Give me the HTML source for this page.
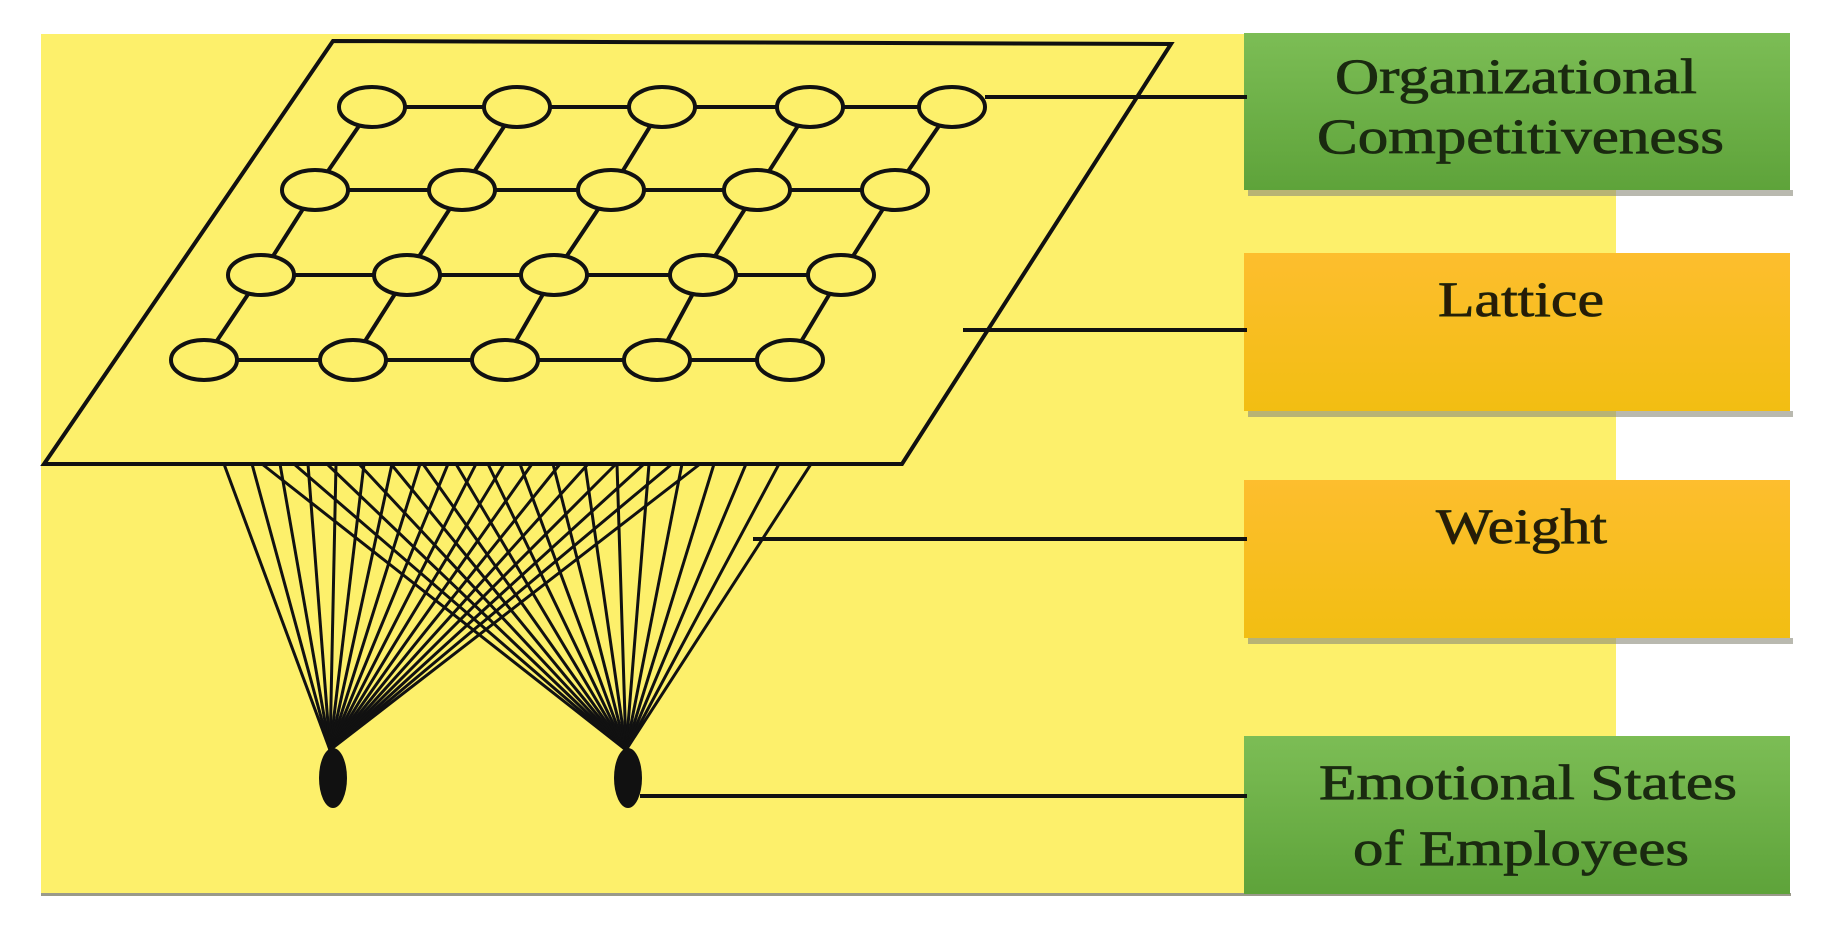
<!DOCTYPE html>
<html><head><meta charset="utf-8"><style>
html,body{margin:0;padding:0;background:#fff;width:1830px;height:930px;overflow:hidden}
</style></head><body>
<svg width="1830" height="930" viewBox="0 0 1830 930" xmlns="http://www.w3.org/2000/svg">
<defs>
<linearGradient id="g" x1="0" y1="0" x2="0" y2="1"><stop offset="0" stop-color="#7cbd55"/><stop offset="1" stop-color="#5ea33a"/></linearGradient>
<linearGradient id="o" x1="0" y1="0" x2="0" y2="1"><stop offset="0" stop-color="#fdbe2e"/><stop offset="1" stop-color="#f2be12"/></linearGradient>
</defs>
<rect x="0" y="0" width="1830" height="930" fill="#fff"/>
<rect x="41" y="34" width="1575" height="860" fill="#fdf06b"/>
<rect x="41" y="893" width="1750" height="3" fill="#9a9a8a"/>
<g fill="#8a8a7a" opacity="0.6">
<rect x="1248" y="190" width="545" height="6"/>
<rect x="1248" y="411" width="545" height="6"/>
<rect x="1248" y="638" width="545" height="6"/>
</g>
<rect x="1244" y="33" width="546" height="157" fill="url(#g)"/>
<rect x="1244" y="253" width="546" height="158" fill="url(#o)"/>
<rect x="1244" y="480" width="546" height="158" fill="url(#o)"/>
<rect x="1244" y="736" width="546" height="158" fill="url(#g)"/>
<g font-family="Liberation Serif, serif" fill="#1a2a10" font-size="50" stroke="#1a2a10" stroke-width="0.8">
<text x="1335" y="93" textLength="362" lengthAdjust="spacingAndGlyphs">Organizational</text>
<text x="1317" y="153" textLength="407" lengthAdjust="spacingAndGlyphs">Competitiveness</text>
<text x="1438" y="316" textLength="166" lengthAdjust="spacingAndGlyphs" fill="#2a1a05">Lattice</text>
<text x="1436" y="543" textLength="171" lengthAdjust="spacingAndGlyphs" fill="#2a1a05">Weight</text>
<text x="1319" y="799" textLength="418" lengthAdjust="spacingAndGlyphs">Emotional States</text>
<text x="1353" y="865" textLength="336" lengthAdjust="spacingAndGlyphs">of Employees</text>
</g>
<g stroke="#111" stroke-width="4" fill="none">
<polygon points="333,41 1171,44 902,464 44,464"/>
<line x1="985" y1="97" x2="1247" y2="97"/>
<line x1="963" y1="330" x2="1247" y2="330"/>
<line x1="753" y1="539" x2="1247" y2="539"/>
<line x1="640" y1="796" x2="1247" y2="796"/>
</g>
<g stroke="#111" stroke-width="4" fill="#fdf06b">
<line x1="372" y1="107" x2="952" y2="107"/>
<line x1="315" y1="190" x2="895" y2="190"/>
<line x1="261" y1="275" x2="841" y2="275"/>
<line x1="204" y1="360" x2="790" y2="360"/>
<line x1="372" y1="107" x2="315" y2="190"/><line x1="517" y1="107" x2="462" y2="190"/><line x1="662" y1="107" x2="611" y2="190"/><line x1="810" y1="107" x2="757" y2="190"/><line x1="952" y1="107" x2="895" y2="190"/>
<line x1="315" y1="190" x2="261" y2="275"/><line x1="462" y1="190" x2="407" y2="275"/><line x1="611" y1="190" x2="554" y2="275"/><line x1="757" y1="190" x2="703" y2="275"/><line x1="895" y1="190" x2="841" y2="275"/>
<line x1="261" y1="275" x2="204" y2="360"/><line x1="407" y1="275" x2="353" y2="360"/><line x1="554" y1="275" x2="505" y2="360"/><line x1="703" y1="275" x2="657" y2="360"/><line x1="841" y1="275" x2="790" y2="360"/>
<ellipse cx="372" cy="107" rx="33" ry="20"/><ellipse cx="517" cy="107" rx="33" ry="20"/><ellipse cx="662" cy="107" rx="33" ry="20"/><ellipse cx="810" cy="107" rx="33" ry="20"/><ellipse cx="952" cy="107" rx="33" ry="20"/>
<ellipse cx="315" cy="190" rx="33" ry="20"/><ellipse cx="462" cy="190" rx="33" ry="20"/><ellipse cx="611" cy="190" rx="33" ry="20"/><ellipse cx="757" cy="190" rx="33" ry="20"/><ellipse cx="895" cy="190" rx="33" ry="20"/>
<ellipse cx="261" cy="275" rx="33" ry="20"/><ellipse cx="407" cy="275" rx="33" ry="20"/><ellipse cx="554" cy="275" rx="33" ry="20"/><ellipse cx="703" cy="275" rx="33" ry="20"/><ellipse cx="841" cy="275" rx="33" ry="20"/>
<ellipse cx="204" cy="360" rx="33" ry="20"/><ellipse cx="353" cy="360" rx="33" ry="20"/><ellipse cx="505" cy="360" rx="33" ry="20"/><ellipse cx="657" cy="360" rx="33" ry="20"/><ellipse cx="790" cy="360" rx="33" ry="20"/>
</g>
<g stroke="#111" stroke-width="3">
<line x1="224" y1="464" x2="330" y2="750"/><line x1="252" y1="464" x2="330" y2="750"/><line x1="280" y1="464" x2="330" y2="750"/><line x1="308" y1="464" x2="330" y2="750"/><line x1="336" y1="464" x2="330" y2="750"/><line x1="364" y1="464" x2="330" y2="750"/><line x1="392" y1="464" x2="330" y2="750"/><line x1="420" y1="464" x2="330" y2="750"/><line x1="448" y1="464" x2="330" y2="750"/><line x1="476" y1="464" x2="330" y2="750"/><line x1="504" y1="464" x2="330" y2="750"/><line x1="532" y1="464" x2="330" y2="750"/><line x1="560" y1="464" x2="330" y2="750"/><line x1="588" y1="464" x2="330" y2="750"/><line x1="616" y1="464" x2="330" y2="750"/><line x1="644" y1="464" x2="330" y2="750"/><line x1="672" y1="464" x2="330" y2="750"/><line x1="700" y1="464" x2="330" y2="750"/>
<line x1="262" y1="464" x2="626" y2="750"/><line x1="294" y1="464" x2="626" y2="750"/><line x1="327" y1="464" x2="626" y2="750"/><line x1="359" y1="464" x2="626" y2="750"/><line x1="391" y1="464" x2="626" y2="750"/><line x1="423" y1="464" x2="626" y2="750"/><line x1="456" y1="464" x2="626" y2="750"/><line x1="488" y1="464" x2="626" y2="750"/><line x1="520" y1="464" x2="626" y2="750"/><line x1="553" y1="464" x2="626" y2="750"/><line x1="585" y1="464" x2="626" y2="750"/><line x1="617" y1="464" x2="626" y2="750"/><line x1="649" y1="464" x2="626" y2="750"/><line x1="682" y1="464" x2="626" y2="750"/><line x1="714" y1="464" x2="626" y2="750"/><line x1="746" y1="464" x2="626" y2="750"/><line x1="779" y1="464" x2="626" y2="750"/><line x1="811" y1="464" x2="626" y2="750"/>
</g>
<ellipse cx="333" cy="778" rx="14" ry="30" fill="#111"/>
<ellipse cx="628" cy="778" rx="14" ry="30" fill="#111"/>
</svg>
</body></html>
